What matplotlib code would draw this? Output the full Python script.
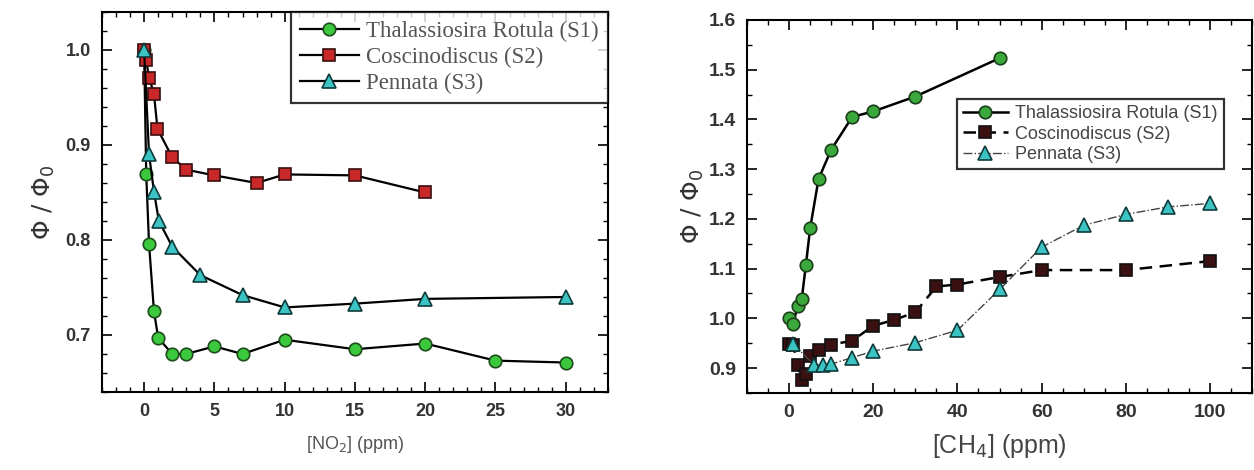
import matplotlib
matplotlib.use("Agg")
import matplotlib.pyplot as plt
from matplotlib.ticker import MultipleLocator

# ---- Left panel data: NO2 ----
no2_s1_x = [0, 0.15, 0.35, 0.7, 1, 2, 3, 5, 7, 10, 15, 20, 25, 30]
no2_s1_y = [1.0, 0.869, 0.796, 0.725, 0.697, 0.680, 0.680, 0.688, 0.680, 0.695, 0.685, 0.691, 0.673, 0.671]
no2_s2_x = [0, 0.15, 0.35, 0.7, 0.95, 2, 3, 5, 8, 10, 15, 20]
no2_s2_y = [1.0, 0.989, 0.971, 0.954, 0.917, 0.887, 0.874, 0.868, 0.860, 0.869, 0.868, 0.850]
no2_s3_x = [0, 0.35, 0.7, 1.05, 2, 4, 7, 10, 15, 20, 30]
no2_s3_y = [1.0, 0.890, 0.851, 0.820, 0.793, 0.763, 0.742, 0.729, 0.733, 0.738, 0.740]

# ---- Right panel data: CH4 ----
ch4_s1_x = [0, 1, 2, 3, 4, 5, 7, 10, 15, 20, 30, 50]
ch4_s1_y = [1.0, 0.989, 1.025, 1.038, 1.108, 1.181, 1.280, 1.339, 1.405, 1.416, 1.446, 1.523]
ch4_s2_x = [0, 1, 2, 3, 4, 5, 7, 10, 15, 20, 25, 30, 35, 40, 50, 60, 80, 100]
ch4_s2_y = [0.948, 0.947, 0.906, 0.876, 0.888, 0.925, 0.936, 0.947, 0.955, 0.985, 0.997,
            1.012, 1.064, 1.068, 1.083, 1.097, 1.097, 1.115]
ch4_s3_x = [1, 6, 8, 10, 15, 20, 30, 40, 50, 60, 70, 80, 90, 100]
ch4_s3_y = [0.948, 0.906, 0.906, 0.908, 0.921, 0.934, 0.951, 0.976, 1.058, 1.143, 1.187, 1.209, 1.224, 1.231]

labels = ["Thalassiosira Rotula (S1)", "Coscinodiscus (S2)", "Pennata (S3)"]

fig = plt.figure(figsize=(12.54, 4.70), dpi=100)
ax1 = fig.add_axes([0.0813, 0.166, 0.4035, 0.8085])
ax2 = fig.add_axes([0.5957, 0.164, 0.4027, 0.7936])

tickcol = "#333333"

def style(ax, xmaj, xmin, ymaj, ymin, fs):
    ax.xaxis.set_major_locator(MultipleLocator(xmaj))
    ax.xaxis.set_minor_locator(MultipleLocator(xmin))
    ax.yaxis.set_major_locator(MultipleLocator(ymaj))
    ax.yaxis.set_minor_locator(MultipleLocator(ymin))
    ax.tick_params(which="both", direction="in", top=True, right=True, colors="black",
                   labelcolor=tickcol)
    ax.tick_params(which="major", length=7, width=1.2, labelsize=fs, pad=8)
    ax.tick_params(which="minor", length=3.5, width=1.0)
    for lab in ax.get_xticklabels() + ax.get_yticklabels():
        lab.set_fontweight("bold")
        lab.set_family("Liberation Sans")
    for s in ax.spines.values():
        s.set_linewidth(1.5)

# Left panel
ax1.plot(no2_s1_x, no2_s1_y, "-", color="black", lw=1.6, marker="o", ms=9,
         mfc="#3cc83c", mec="#1d4d1d", mew=1.2, label=labels[0])
ax1.plot(no2_s2_x, no2_s2_y, "-", color="black", lw=1.6, marker="s", ms=8,
         mfc="#c82828", mec="#3a0f0f", mew=1.2, label=labels[1])
ax1.plot(no2_s3_x, no2_s3_y, "-", color="black", lw=1.6, marker="^", ms=10,
         mfc="#3cc4c4", mec="#0f3a3a", mew=1.2, label=labels[2])
ax1.set_xlim(-3, 33)
ax1.set_ylim(0.64, 1.04)
style(ax1, 5, 1, 0.1, 0.02, 13)
ax1.set_xlabel("[NO$_2$] (ppm)", fontsize=13, color="#555555", family="Liberation Sans", labelpad=10)
ax1.set_ylabel(r"$\Phi$ / $\Phi_0$", fontsize=18, color="#333333", labelpad=6)
leg1 = ax1.legend(loc="upper right", bbox_to_anchor=(1.0, 1.0), borderaxespad=0.0,
                  prop={"family": "Liberation Serif", "size": 16.5}, frameon=True,
                  fancybox=False, edgecolor="black", handlelength=2.6, labelspacing=0.2,
                  borderpad=0.4, handletextpad=0.3)
leg1.get_frame().set_linewidth(1.6)
for t in leg1.get_texts():
    t.set_color("#555555")

# Right panel
ax2.plot(ch4_s1_x, ch4_s1_y, "-", color="black", lw=1.8, marker="o", ms=9,
         mfc="#3aa83a", mec="#1b3f1b", mew=1.2, label=labels[0])
ax2.plot(ch4_s2_x, ch4_s2_y, "--", color="black", lw=1.8, marker="s", ms=9,
         mfc="#3a1010", mec="#111111", mew=1.2, dashes=(5, 3), label=labels[1])
ax2.plot(ch4_s3_x, ch4_s3_y, "-.", color="#444444", lw=1.0, marker="^", ms=10,
         mfc="#3cc4c4", mec="#0f3a3a", mew=1.2, label=labels[2])
ax2.set_xlim(-10, 110)
ax2.set_ylim(0.85, 1.6)
style(ax2, 20, 5, 0.1, 0.05, 14)
ax2.set_xlabel("[CH$_4$] (ppm)", fontsize=18, color="#444444", family="Liberation Sans", labelpad=8)
ax2.set_ylabel(r"$\Phi$ / $\Phi_0$", fontsize=18, color="#333333", labelpad=2)
leg2 = ax2.legend(loc="upper left", bbox_to_anchor=(0.415, 0.789), borderaxespad=0.0,
                  prop={"family": "Liberation Sans", "size": 13}, frameon=True,
                  fancybox=False, edgecolor="black", handlelength=2.5, labelspacing=0.2,
                  borderpad=0.35, handletextpad=0.4)
leg2.get_frame().set_linewidth(1.6)
for t in leg2.get_texts():
    t.set_color("#444444")

fig.savefig("out.png", dpi=100)
